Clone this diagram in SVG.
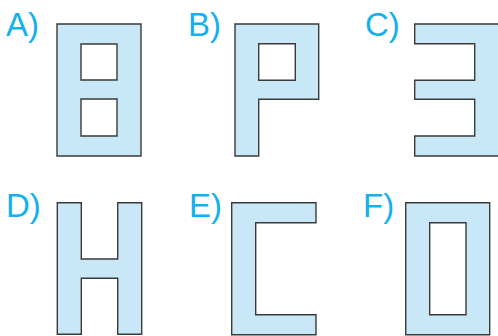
<svg xmlns="http://www.w3.org/2000/svg" width="498" height="336" viewBox="0 0 498 336">
<style>
.s{fill:#c8e8f8;stroke:#3a3a3a;stroke-width:1.4;fill-rule:evenodd;stroke-linejoin:miter}
.l{font-family:"Liberation Sans",Arial,sans-serif;font-size:33px;fill:#12b0ec}
</style>
<rect width="498" height="336" fill="#ffffff"/>
<g id="A">
<text class="l" x="6" y="36">A)</text>
<path class="s" d="M57,24H141V156H57Z M81,44V80H117V44Z M81,99V136H117V99Z"/>
</g>
<g id="B">
<text class="l" x="188" y="36">B)</text>
<path class="s" d="M235,24H318.7V99.3H258.7V156H235Z M258.7,43.7V80.3H295.3V43.7Z"/>
</g>
<g id="C">
<text class="l" x="365" y="36">C)</text>
<path class="s" d="M414.7,24H500V156H414.7V136H474.7V99.3H414.7V80.3H474.7V43.7H414.7Z"/>
</g>
<g id="D">
<text class="l" x="6" y="217">D)</text>
<path class="s" d="M57.3,202.7H81.3V259H117.7V202.7H141.7V334.3H117.7V278.3H81.3V334.3H57.3Z"/>
</g>
<g id="E">
<text class="l" x="189" y="217">E)</text>
<path class="s" d="M231.7,202.7H316V222.7H255.7V314.7H316V334.7H231.7Z"/>
</g>
<g id="F">
<text class="l" x="363" y="217">F)</text>
<path class="s" d="M405.7,202.7H489.7V334.7H405.7Z M429.7,222.7V314.7H466V222.7Z"/>
</g>
<g id="connectors"></g>
</svg>
